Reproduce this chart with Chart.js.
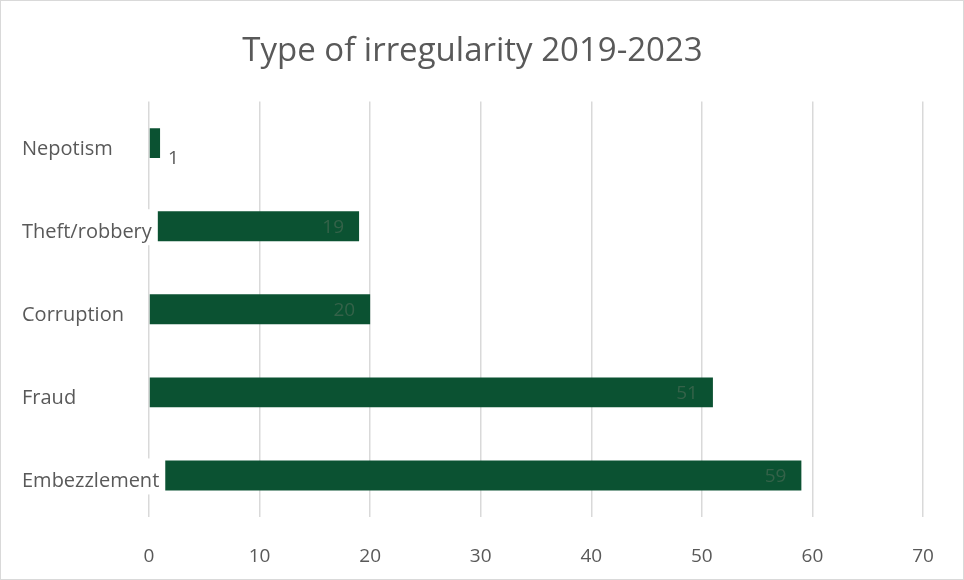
<!DOCTYPE html>
<html>
<head>
<meta charset="utf-8">
<style>
  html, body { margin: 0; padding: 0; background: #ffffff; }
  #wrap { width: 964px; height: 580px; }
</style>
<script src="https://cdn.jsdelivr.net/npm/chart.js@4"></script>
</head>
<body>
<div id="wrap"><canvas id="chart" width="964" height="580"></canvas></div>
<script>
const categories = ['Nepotism', 'Theft/robbery', 'Corruption', 'Fraud', 'Embezzlement'];
const counts = [1, 19, 20, 51, 59];
const xTicks = [0, 10, 20, 30, 40, 50, 60, 70];

const FONT = "'Open Sans', 'Liberation Sans', sans-serif";
const TEXT = '#595959';
const BAR = '#0b5232';

// Value labels: inside the bar end when there is room, otherwise just right of it.
const valueLabels = {
  id: 'valueLabels',
  afterDatasetsDraw(chart) {
    const ctx = chart.ctx;
    const meta = chart.getDatasetMeta(0);
    ctx.save();
    ctx.font = '19px ' + FONT;
    ctx.textBaseline = 'middle';
    meta.data.forEach((bar, i) => {
      const txt = String(counts[i]);
      const w = ctx.measureText(txt).width;
      const len = bar.x - bar.base;
      if (len > w + 24) {
        ctx.fillStyle = 'rgba(70,105,82,0.7)';
        ctx.textAlign = 'right';
        ctx.fillText(txt, bar.x - 15, bar.y + 1);
      } else {
        ctx.fillStyle = TEXT;
        ctx.textAlign = 'left';
        ctx.fillText(txt, bar.x + 8, bar.y + 15);
      }
    });
    ctx.restore();
  }
};

// Category names, left aligned on a white patch so long names can run over the bar start.
const categoryLabels = {
  id: 'categoryLabels',
  afterDatasetsDraw(chart) {
    const ctx = chart.ctx;
    const y = chart.scales.y;
    const x0 = chart.options.layout.padding.left;
    ctx.save();
    ctx.font = '20px ' + FONT;
    ctx.textAlign = 'left';
    ctx.textBaseline = 'middle';
    y.ticks.forEach((t, i) => {
      const label = y.getLabelForValue(t.value);
      const cy = y.getPixelForTick(i);
      const w = ctx.measureText(label).width;
      ctx.fillStyle = '#ffffff';
      ctx.fillRect(x0 - 2, cy - 17, w + 8, 36);
      ctx.fillStyle = TEXT;
      ctx.fillText(label, x0, cy + 6);
    });
    ctx.restore();
  }
};

// Thin frame around the whole chart.
const frame = {
  id: 'frame',
  afterDraw(chart) {
    const ctx = chart.ctx;
    ctx.save();
    ctx.strokeStyle = '#d9d9d9';
    ctx.lineWidth = 1;
    ctx.strokeRect(0.5, 0.5, chart.width - 1, chart.height - 1);
    ctx.restore();
  }
};

new Chart(document.getElementById('chart'), {
  type: 'bar',
  data: {
    labels: categories,
    datasets: [{
      data: counts,
      backgroundColor: BAR,
      borderWidth: 0,
      barPercentage: 0.36,
      categoryPercentage: 1
    }]
  },
  options: {
    indexAxis: 'y',
    responsive: false,
    animation: false,
    layout: { padding: { left: 22, right: 41, top: 0, bottom: 14 } },
    plugins: {
      legend: { display: false },
      tooltip: { enabled: false },
      title: {
        display: true,
        text: 'Type of irregularity 2019-2023',
        color: TEXT,
        font: { family: FONT, size: 33, weight: 'normal' },
        padding: { top: 32, bottom: 30 }
      }
    },
    scales: {
      x: {
        min: 0,
        max: 70,
        afterBuildTicks(scale) { scale.ticks = xTicks.map(v => ({ value: v })); },
        grid: { color: '#d9d9d9', drawTicks: false, lineWidth: 1.5 },
        border: { display: false },
        ticks: { color: TEXT, padding: 28, font: { family: FONT, size: 19 } },
        afterFit(scale) { scale.height = 49; }
      },
      y: {
        grid: { display: false },
        border: { display: false },
        ticks: { color: 'rgba(0,0,0,0)', font: { family: FONT, size: 20 } },
        afterFit(scale) { scale.width = 127; }
      }
    }
  },
  plugins: [valueLabels, categoryLabels, frame]
});
</script>
</body>
</html>
